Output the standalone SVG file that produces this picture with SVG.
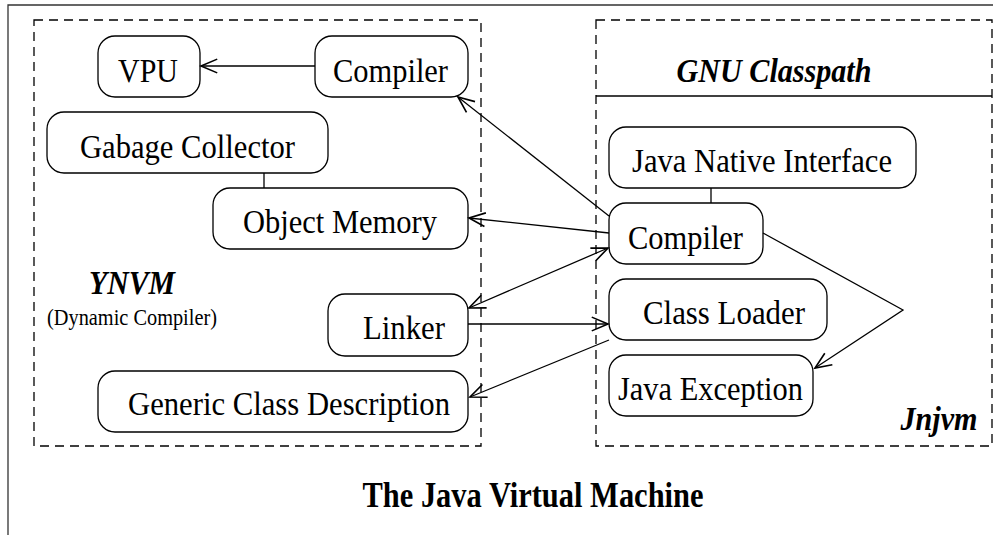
<svg xmlns="http://www.w3.org/2000/svg" width="993" height="535" viewBox="0 0 993 535">
<defs>
<style>
.frame{fill:none;stroke:#333;stroke-width:1.3}
.dash{fill:none;stroke:#000;stroke-width:1.3;stroke-dasharray:9,6}
.node rect{fill:#fff;stroke:#000;stroke-width:1.3}
.lbl{font-size:34px}
.bi{font-size:33px;font-weight:bold;font-style:italic}
.conn line,.conn polyline{fill:none;stroke:#000;stroke-width:1.3}
</style>
<marker id="arr" markerUnits="userSpaceOnUse" markerWidth="20" markerHeight="20" refX="0" refY="0" viewBox="-14 -8 16 16" orient="auto-start-reverse" overflow="visible">
<path d="M-13,-5.5 L0,0 L-13,5.5" fill="none" stroke="#000" stroke-width="1.3"/>
</marker>
</defs>
<rect width="993" height="535" fill="#fff"/>
<g font-family="Liberation Serif, Times New Roman, serif" fill="#000">
<path class="frame" d="M8,540 L8,5 L1000,5"/>
<g id="ynvm-box">
<rect class="dash" x="34" y="20" width="447" height="426"/>
<text class="bi" x="132" y="294" text-anchor="middle" textLength="86" lengthAdjust="spacingAndGlyphs">YNVM</text>
<text x="132" y="325" font-size="23" text-anchor="middle" textLength="170" lengthAdjust="spacingAndGlyphs">(Dynamic Compiler)</text>
</g>
<g id="jnjvm-box">
<rect class="dash" x="596" y="20" width="396" height="426"/>
<line x1="596" y1="96" x2="992" y2="96" stroke="#000" stroke-width="1.3"/>
<text class="bi" x="774" y="82" text-anchor="middle" textLength="195" lengthAdjust="spacingAndGlyphs">GNU Classpath</text>
<text class="bi" x="939" y="430" text-anchor="middle" textLength="77" lengthAdjust="spacingAndGlyphs">Jnjvm</text>
</g>
<g id="vpu" class="node"><rect x="98" y="36" width="102" height="61" rx="17"/><text class="lbl" x="148" y="82" text-anchor="middle" textLength="60" lengthAdjust="spacingAndGlyphs">VPU</text></g>
<g id="compiler-left" class="node"><rect x="315" y="36" width="153" height="61" rx="17"/><text class="lbl" x="390.5" y="82" text-anchor="middle" textLength="115" lengthAdjust="spacingAndGlyphs">Compiler</text></g>
<g id="gc" class="node"><rect x="47" y="112" width="281" height="61" rx="17"/><text class="lbl" x="187.5" y="158" text-anchor="middle" textLength="215" lengthAdjust="spacingAndGlyphs">Gabage Collector</text></g>
<g id="objmem" class="node"><rect x="213" y="188" width="255" height="61" rx="17"/><text class="lbl" x="340" y="233" text-anchor="middle" textLength="194" lengthAdjust="spacingAndGlyphs">Object Memory</text></g>
<g id="linker" class="node"><rect x="328" y="294" width="140" height="62" rx="17"/><text class="lbl" x="404" y="339" text-anchor="middle" textLength="82" lengthAdjust="spacingAndGlyphs">Linker</text></g>
<g id="gcd" class="node"><rect x="98" y="371" width="370" height="61" rx="17"/><text class="lbl" x="289" y="415" text-anchor="middle" textLength="322" lengthAdjust="spacingAndGlyphs">Generic Class Description</text></g>
<g id="jni" class="node"><rect x="609" y="127" width="307" height="61" rx="17"/><text class="lbl" x="762" y="172" text-anchor="middle" textLength="260" lengthAdjust="spacingAndGlyphs">Java Native Interface</text></g>
<g id="compiler-right" class="node"><rect x="609" y="203" width="154" height="61" rx="17"/><text class="lbl" x="685.5" y="249" text-anchor="middle" textLength="115" lengthAdjust="spacingAndGlyphs">Compiler</text></g>
<g id="classloader" class="node"><rect x="609" y="279" width="218" height="61" rx="17"/><text class="lbl" x="724" y="324" text-anchor="middle" textLength="162" lengthAdjust="spacingAndGlyphs">Class Loader</text></g>
<g id="javaexc" class="node"><rect x="609" y="355" width="204" height="61" rx="17"/><text class="lbl" x="710.5" y="400" text-anchor="middle" textLength="185" lengthAdjust="spacingAndGlyphs">Java Exception</text></g>
<g id="connectors" class="conn">
<line x1="315" y1="66" x2="201" y2="66" marker-end="url(#arr)"/>
<line x1="264" y1="173" x2="264" y2="188"/>
<line x1="711" y1="188" x2="711" y2="203"/>
<line x1="609" y1="216" x2="458" y2="97" marker-end="url(#arr)"/>
<line x1="609" y1="233" x2="469" y2="218" marker-end="url(#arr)"/>
<line x1="469" y1="308" x2="608" y2="248" marker-start="url(#arr)" marker-end="url(#arr)"/>
<line x1="468" y1="324" x2="608" y2="324" marker-end="url(#arr)"/>
<line x1="609" y1="340" x2="470" y2="397" marker-end="url(#arr)"/>
<polyline points="763,233 903,310 815,368" marker-end="url(#arr)"/>
</g>
<text x="533" y="507" font-size="35" font-weight="bold" text-anchor="middle" textLength="341" lengthAdjust="spacingAndGlyphs">The Java Virtual Machine</text>
</g>
</svg>
